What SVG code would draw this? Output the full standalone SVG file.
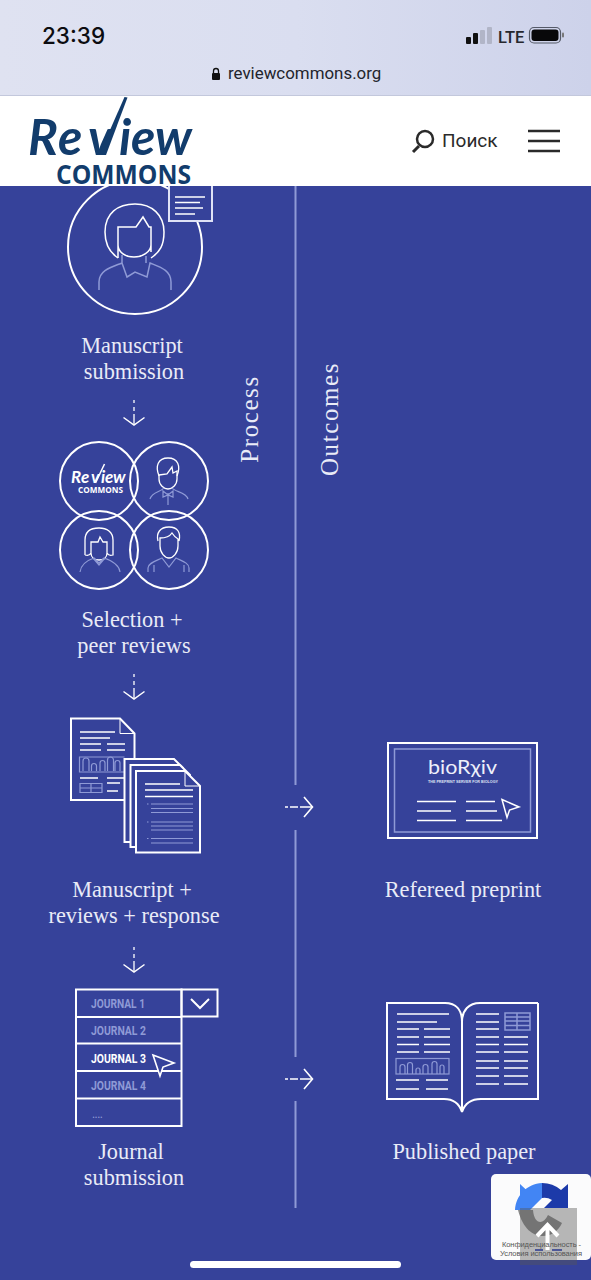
<svg xmlns="http://www.w3.org/2000/svg" width="591" height="1280" viewBox="0 0 591 1280">
<style>
.lb{font-family:"Liberation Serif",serif;font-size:22.300px;fill:#e9ebf7;text-anchor:middle}
.ax{font-size:25px;letter-spacing:1.600px}
.s{fill:none;stroke:#fff;stroke-width:2}
.t{fill:none;stroke:#fff;stroke-width:1.500}
.p{fill:none;stroke:#fff;stroke-width:1.300}
.d{fill:none;stroke:#8f9ad6;stroke-width:1.500}
.f{fill:#36429a;stroke:#fff;stroke-width:2}
.j{font-family:"Roboto","Liberation Sans",sans-serif;font-size:12px;font-weight:700;fill:#8f9ad6}
.ln{stroke:#fff;stroke-width:1.500;fill:none}
.ld{stroke:#8f9ad6;stroke-width:1.200;fill:none}
.c{fill:#36429a;stroke:#fff;stroke-width:1.600}
</style>
<defs>
<linearGradient id="hd" x1="0" y1="0" x2="1" y2="0"><stop offset="0" stop-color="#dfe2f1"/><stop offset=".5" stop-color="#dadef0"/><stop offset="1" stop-color="#cdd2ea"/></linearGradient>
<g id="arr"><path d="M-13 0h3M-8 0h8M2 0h12" stroke="#fff" stroke-width="1.600" fill="none"/><path d="M6 -10L14.500 0L6 10" stroke="#fff" stroke-width="1.600" fill="none"/></g>
<g id="dn"><path d="M0 0v3M0 7v4M0 14v10" stroke="#fff" stroke-width="1.300" fill="none"/><path d="M-10.500 17.500L0 25L10.500 17.500" stroke="#fff" stroke-width="1.500" fill="none"/></g>
</defs>
<rect width="591" height="1280" fill="#36429a"/>

<g id="browser-bar">
<rect width="591" height="96" fill="url(#hd)"/>
<rect y="95" width="591" height="1.500" fill="#c3c8dc"/>
<text x="42" y="44" font-family="Inter,'Liberation Sans',sans-serif" font-size="22.500" font-weight="500" fill="#0c0c10">23:39</text>
<rect x="466" y="37" width="5" height="7" rx="1" fill="#111"/><rect x="473" y="33" width="5" height="11" rx="1" fill="#111"/><rect x="480" y="30" width="5" height="14" rx="1" fill="#b1b5c7"/><rect x="487" y="27" width="5" height="17" rx="1" fill="#b1b5c7"/>
<text x="498" y="43" font-family="Roboto,'Liberation Sans',sans-serif" font-size="16.500" font-weight="500" fill="#26272e">LTE</text>
<rect x="529.500" y="27.500" width="31" height="15.500" rx="4.500" fill="none" stroke="#555a68" stroke-width="1.200"/><rect x="531.500" y="29.500" width="27" height="11.500" rx="3" fill="#08080a"/><rect x="562" y="32.500" width="2" height="5" rx="1" fill="#777"/>
<rect x="212" y="73" width="8" height="7" rx="1" fill="#111"/><path d="M213.500 73v-2a2.500 2.500 0 0 1 5 0v2" fill="none" stroke="#111" stroke-width="1.300"/>
<text x="228" y="79" font-family="Roboto,'Liberation Sans',sans-serif" font-size="16.900" fill="#22242c">reviewcommons.org</text>
</g>

<g id="site-header">
<rect y="96" width="591" height="90" fill="#fff"/>
<text y="155" x="28 58 88 119 131 155" font-family="Lato,'Open Sans',sans-serif" font-size="50" font-weight="700" font-style="italic" fill="#123c6c">Review</text>
<path d="M99 155L124.500 97L127.500 97.500L106 155Z" fill="#123c6c"/>
<text x="56" y="184" font-family="'Open Sans','Liberation Sans',sans-serif" font-size="26" font-weight="700" fill="#123c6c" textLength="135" lengthAdjust="spacingAndGlyphs">COMMONS</text>
<circle cx="425" cy="139" r="8" fill="none" stroke="#2a2a2a" stroke-width="2.500"/><path d="M419 146l-6 6" stroke="#2a2a2a" stroke-width="3"/>
<text x="442" y="147" font-family="Roboto,'Liberation Sans',sans-serif" font-size="19" fill="#2a2a2a">Поиск</text>
<path d="M528 131h32M528 141h32M528 151h32" stroke="#2a2a2a" stroke-width="2.500"/>
</g>

<g id="connectors">
<path d="M295.500 186V785M295.500 830V1057M295.500 1101V1208" stroke="#8f9ad6" stroke-width="2" fill="none"/>
<use href="#dn" x="134" y="400"/>
<use href="#dn" x="134" y="674"/>
<use href="#dn" x="134" y="947"/>
<use href="#arr" x="298" y="807"/>
<use href="#arr" x="298" y="1079"/>
</g>

<g id="axis-labels">
<text class="lb ax" transform="translate(258 419) rotate(-90)">Process</text>
<text class="lb ax" transform="translate(338 419) rotate(-90)">Outcomes</text>
</g>

<g id="node-manuscript-submission">
<clipPath id="c1"><rect x="0" y="186" width="591" height="200"/></clipPath>
<g clip-path="url(#c1)">
<circle cx="135" cy="247" r="67" class="s"/>
<rect x="169" y="175" width="43" height="46" class="f" style="stroke:#dfe2f6"/>
<path d="M175 197h30M175 202.500h25M175 208h28M175 214h20" class="ln"/>
</g>
<path d="M118 258C109 252 105 244 105 232C105 213 118 204 135 204C152 204 164 215 164 232C164 245 160 252 151 258" class="t"/>
<path d="M118 258V227H136L143 217L149 227H151V252M118 245C118 252 125 257 134 257C142 257 151 252 151 245" class="t"/>
<path d="M99 290V282C99 270 112 267 122 263L127 277L135 272L147 277L150 263C160 267 171 270 171 282V290M122 263V255M146 263V256" class="d"/>
<text class="lb"><tspan x="132" y="353">Manuscript</tspan><tspan x="134" y="379">submission</tspan></text>
</g>

<g id="node-selection-peer-reviews">
<circle cx="99" cy="481" r="39" class="s"/><circle cx="169" cy="481" r="39" class="s"/><circle cx="99" cy="550" r="39" class="s"/><circle cx="169" cy="550" r="39" class="s"/>
<text y="483" x="71 81 91 101 105 113" font-family="Lato,'Open Sans',sans-serif" font-size="17" font-weight="700" font-style="italic" fill="#fff">Review</text>
<path d="M95.500 483L104.500 464" stroke="#fff" stroke-width="1.500" fill="none"/>
<text x="78" y="493" font-family="'Open Sans','Liberation Sans',sans-serif" font-size="9" font-weight="700" fill="#fff" textLength="45" lengthAdjust="spacingAndGlyphs">COMMONS</text>
<path d="M159 476C155 466 158 458 168 458C178 458 181 466 177 476" class="p"/>
<path d="M159 475L167 474L172 467L173 473L177 471V479C177 485 172 489 168 489C164 489 159 485 159 479Z" class="p"/>
<path d="M150 499C152 492 161 492 164 488M188 499C186 492 175 492 172 488M168 493V505M163 491L168 495 173 491 173 497 168 495 163 497Z" class="ld"/>
<path d="M85 555V540C85 531 91 528 99 528C107 528 113 532 113 540V555C110 556 108 555 107 553M85 555C88 556 90 555 91 553V542H98L100 537L103 542H107V553C107 558 103 560 99 560C95 560 91 558 91 553" class="p"/>
<path d="M80 572C81 564 88 560 94 558L99 563L104 558C110 560 119 564 120 572M93 558L99 565L105 558" class="ld"/>
<path d="M158 541C156 533 160 527 169 527C178 527 181 533 179 541M160 538C165 538 170 536 172 533C174 536 176 538 178 539V546C178 553 173 558 169 558C165 558 160 553 160 546Z" class="p"/>
<path d="M148 572V568C148 563 156 561 162 558L169 567L176 558C182 561 189 563 189 568V572M154 565V572M184 565V572" class="ld"/>
<text class="lb"><tspan x="132" y="627">Selection +</tspan><tspan x="134" y="653">peer reviews</tspan></text>
</g>

<g id="node-manuscript-reviews-response">
<path d="M71 718.500H120L134.500 733.500V800H71Z" class="s"/><path d="M120 719V733.500H134" class="s" style="stroke-width:1"/>
<path d="M80 732h35M80 738h30M80 744h21M107 744h18M80 750h21M107 750h18" class="ln"/>
<path d="M124.500 757H79.500V772H124.500" class="ld"/>
<path d="M83 771v-10a1.500 1.500 0 0 1 6 0v10M91.500 771v-5a1.500 1.500 0 0 1 5 0v5M100 771v-8a1.500 1.500 0 0 1 5 0v8M107.500 771v-11a1.500 1.500 0 0 1 6 0v11M115 771v-8a1.500 1.500 0 0 1 5 0v8" class="ld"/>
<path d="M80 778h18M107 778h17M107 783h13M107 791h11" class="ln"/>
<path d="M80 783.500h22v9h-22zM80 788h22M91 783.500v9" class="ld"/>
<path d="M124.500 759H174L183 768V842H124.500Z" class="f"/>
<path d="M130.500 765H180L190 775V847H130.500Z" class="f"/>
<path d="M136 771H185L200 786V852.500H136Z" class="f"/><path d="M185 771.500V786H200" class="s" style="stroke-width:1"/>
<path d="M145 784h35M145 790h48M145 796.500h48" class="ln"/>
<path d="M151 804h42M151 808.500h42M151 812.500h42M151 822h42M151 826h42M151 830h42M151 838.500h42M151 843h42M147 804h1.500M147 822h1.500M147 838.500h1.500" class="ld"/>
<text class="lb"><tspan x="132" y="897">Manuscript +</tspan><tspan x="134" y="923">reviews + response</tspan></text>
</g>

<g id="node-journal-submission">
<rect x="76" y="989.500" width="105.500" height="136.500" class="s"/>
<rect x="181.500" y="989.500" width="36" height="27" class="s"/>
<path d="M76 1017H181.500M76 1043.500H181.500M76 1071H181.500M76 1098.500H181.500" class="s"/>
<path d="M191 999L200 1008 209 999" class="s"/>
<text class="j" x="91" y="1008" textLength="54" lengthAdjust="spacingAndGlyphs">JOURNAL 1</text>
<text class="j" x="91" y="1035" textLength="55" lengthAdjust="spacingAndGlyphs">JOURNAL 2</text>
<text class="j" x="91" y="1062.500" textLength="55" lengthAdjust="spacingAndGlyphs" style="fill:#fff">JOURNAL 3</text>
<text class="j" x="91" y="1090" textLength="55" lengthAdjust="spacingAndGlyphs">JOURNAL 4</text>
<text class="j" x="92" y="1117.500" textLength="11" style="font-weight:400">....</text>
<path d="M153 1055L174 1063L163 1067L160 1076Z" class="c"/>
<text class="lb"><tspan x="131" y="1159">Journal</tspan><tspan x="134" y="1185">submission</tspan></text>
</g>

<g id="node-refereed-preprint">
<rect x="388" y="743" width="149" height="95" class="s"/>
<rect x="394.500" y="749" width="136" height="83" class="d"/>
<text x="428" y="774" font-family="Lato,'Open Sans',sans-serif" font-size="20" font-weight="400" fill="#eef0fa" textLength="69" lengthAdjust="spacingAndGlyphs">bioRχiv</text>
<text x="428" y="783" font-family="'Liberation Sans',sans-serif" font-size="3.800" font-weight="700" fill="#dfe2f4" textLength="70" lengthAdjust="spacingAndGlyphs">THE PREPRINT SERVER FOR BIOLOGY</text>
<path d="M417 801.500h39M417 811h34M417 820.500h39M466 801.500h29M466 811h31M466 820.500h36" class="ln"/>
<path d="M502 799.500L519 807L509.500 810L507 817.500Z" class="c" style="stroke-width:1.500"/>
<text class="lb" x="463" y="897">Refereed preprint</text>
</g>

<g id="node-published-paper">
<path d="M387 1003H445C456 1003 462 1010 462 1022V1112C459 1103 452 1099 444 1099H387ZM538 1003H480C469 1003 462 1010 462 1022M538 1003V1099H481C472 1099 465 1103 462 1112" class="s"/>
<path d="M397 1014h52M397 1022h40M397 1029h22M424 1029h26M397 1037h22M424 1037h26M397 1044.500h22M424 1044.500h26M397 1052h22M424 1052h26M396 1080h23M426 1080h22M396 1089h23M426 1089h22" class="ln"/>
<path d="M476 1014h23M476 1022h23M476 1029h23M476 1037h23M504 1037h24M476 1044.500h23M504 1044.500h24M476 1052h23M504 1052h24M476 1061h23M504 1061h24M476 1068h23M504 1068h24M476 1076h23M504 1076h24M476 1084h23M504 1084h24" class="ln"/>
<rect x="396" y="1058.500" width="53" height="15.500" class="ld"/>
<path d="M400 1074v-7a2 2 0 0 1 5 0v7M407.500 1074v-9a2 2 0 0 1 5 0v9M416 1074v-4a1.500 1.500 0 0 1 4 0v4M423 1074v-7a2 2 0 0 1 5 0v7M432 1074v-10a2 2 0 0 1 5 0v10M440 1074v-7a2 2 0 0 1 4 0v7" class="ld"/>
<path d="M505 1013h25v17h-25zM505 1017h25M505 1021h25M505 1025.500h25M517 1013v17" class="ld" style="stroke-width:1.500"/>
<text class="lb" x="464" y="1159">Published paper</text>
</g>

<g id="recaptcha-badge">
<rect x="491" y="1174" width="100" height="86" rx="5" fill="#fbfbfc"/>
<path d="M542 1183A29 29 0 0 1 561 1190L568 1184V1208H544L552 1200A14 14 0 0 0 542 1198Z" fill="#1c3aa9"/>
<path d="M542 1183V1198L530 1210H515C516 1195 527 1184 542 1183ZM520 1184L535 1198L520 1207Z" fill="#4285f4"/>
<path d="M518 1210H533C534 1224 543 1226 548 1215L562 1223C555 1240 527 1245 518 1210Z" fill="#8a8a8a"/>
<rect x="520" y="1208" width="57" height="57" fill="#555" fill-opacity=".42"/>
<path d="M535 1250h8M552 1250h10" stroke="#2b3a8f" stroke-width="1.500"/>
<path d="M547.500 1250V1226M537 1236L547.500 1225L558 1236" fill="none" stroke="#fff" stroke-width="4"/>
<text font-family="'Liberation Sans',sans-serif" font-size="7.500" fill="#555"><tspan x="502" y="1247" textLength="79">Конфиденциальность -</tspan><tspan x="500" y="1256" textLength="82">Условия использования</tspan></text>
</g>

<g id="home-indicator"><rect x="190" y="1261" width="211" height="7" rx="3.500" fill="#fff"/></g>
</svg>
